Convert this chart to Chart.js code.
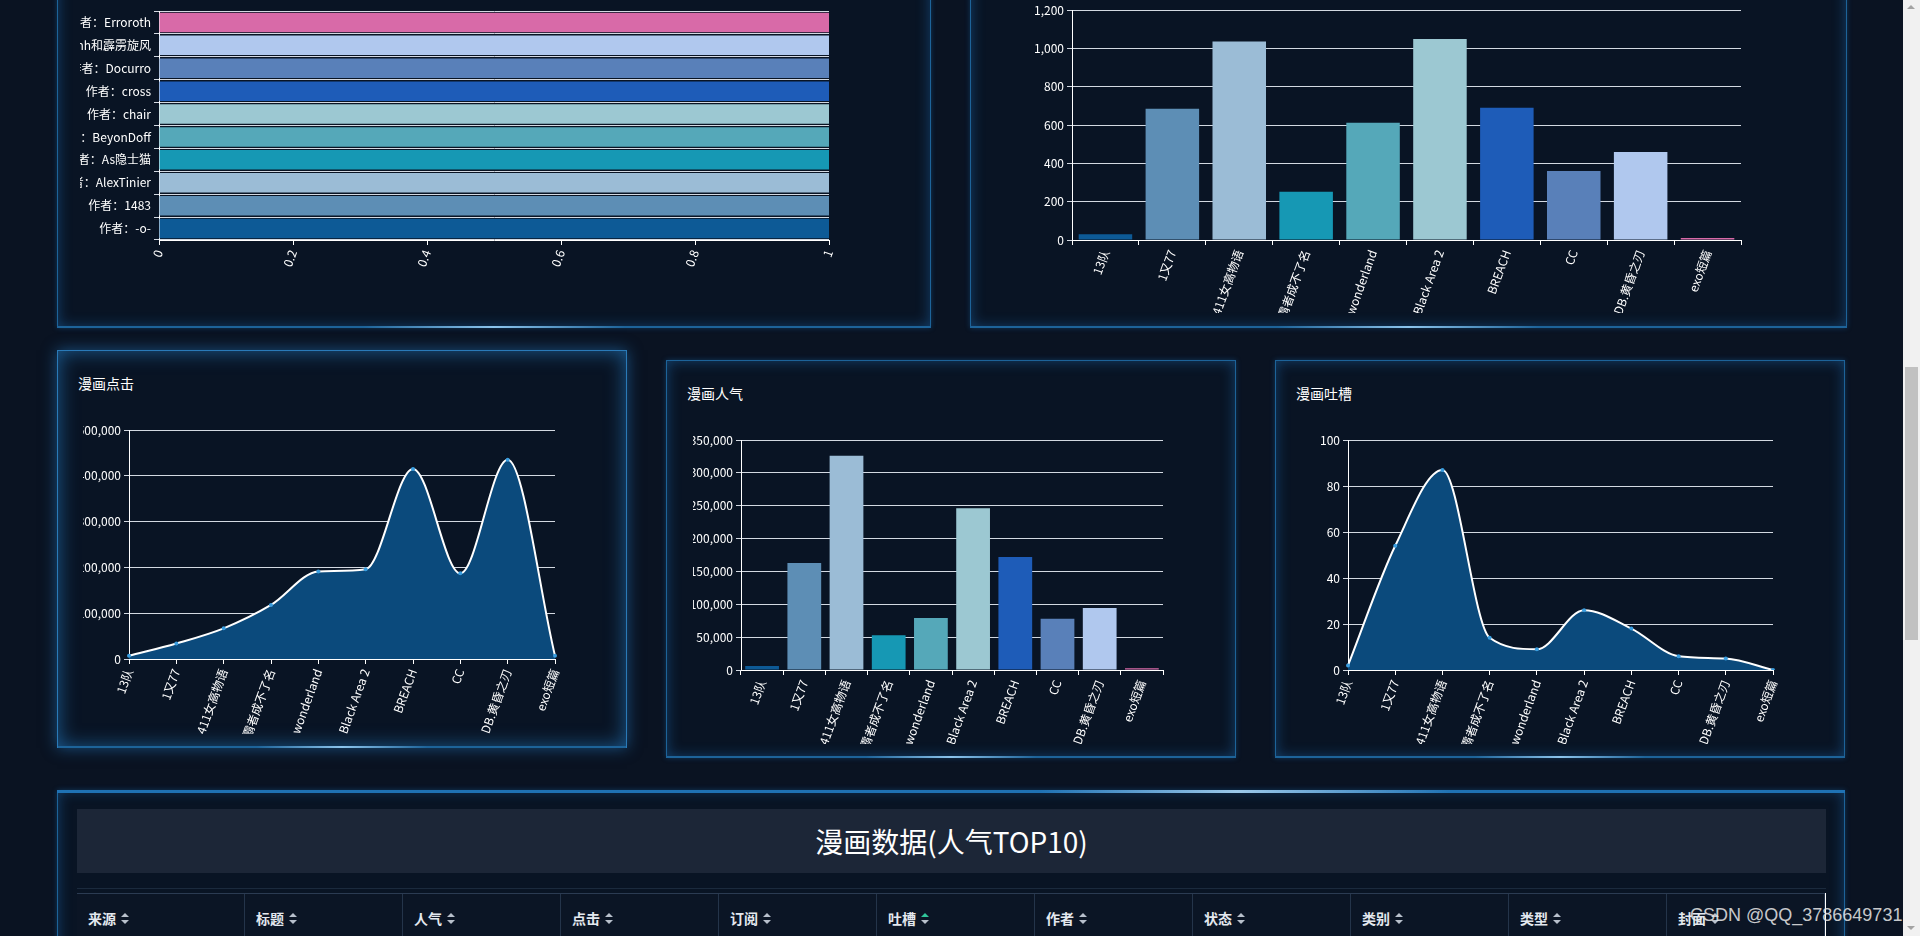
<!DOCTYPE html>
<html lang="zh">
<head>
<meta charset="utf-8">
<title>漫画数据</title>
<script src="https://cdn.jsdelivr.net/npm/chart.js@4.4.1/dist/chart.umd.min.js"></script>
<style>
  html, body { margin: 0; padding: 0; overflow: hidden; }
  body {
    width: 1920px; height: 936px; position: relative;
    background: #0a1322;
    font-family: "Microsoft YaHei", "Noto Sans CJK SC", sans-serif;
    color: #fff;
  }
  .box {
    position: absolute; box-sizing: border-box;
    border: 1px solid #1d6399;
    box-shadow: inset 0 0 14px rgba(30, 120, 200, .45), 0 0 5px rgba(30, 120, 200, .35);
    background: #091424;
  }
  .box.hover { border-color: #2a7ab8; box-shadow: inset 0 0 20px rgba(40, 140, 220, .6), 0 0 14px rgba(40, 140, 220, .5); }
  .box .edge {
    position: absolute; left: 0; right: 0; bottom: -1px; height: 2px;
    background: linear-gradient(90deg, #1d6399 0%, #1d6399 35%, #8cc4ec 50%, #1d6399 65%, #1d6399 100%);
  }
  .title { position: absolute; font-size: 14px; line-height: 20px; color: #fff; }
  canvas { position: absolute; }
  #bottom { left: 57px; top: 790px; width: 1788px; height: 220px; border-top: 0; }
  #bottom .topline {
    position: absolute; left: -1px; right: -1px; top: 0; height: 3px;
    background: linear-gradient(90deg, #1f72b4 0%, #1f72b4 55%, #9cc9ea 66%, #1f72b4 78%, #1f72b4 100%);
  }
  #headbar {
    position: absolute; left: 77px; top: 809px; width: 1749px; height: 64px;
    background: #1c2637; text-align: center; font-size: 28px; line-height: 64px; color: #fff;
  }
  #sep { position: absolute; left: 77px; top: 888px; width: 1749px; height: 1px; background: #1b2a3d; }
  #thead {
    position: absolute; left: 77px; top: 893px; width: 1749px; height: 60px;
    border-top: 1px solid #2b3b52; display: flex; background: #0b1525;
  }
  #thead div {
    box-sizing: border-box; height: 60px; padding: 14px 0 0 11px;
    border-right: 1px solid #24344a; font-size: 14px; font-weight: bold; color: #e3e8ef;
  }
  .sort { display: inline-block; vertical-align: middle; margin-left: 5px; width: 8px; height: 11px; position: relative; top: -2px; }
  .sort i { position: absolute; left: 0; width: 0; height: 0; border-left: 4px solid transparent; border-right: 4px solid transparent; }
  .sort i.up { top: 0; border-bottom: 4px solid #b8c0cc; }
  .sort i.dn { bottom: 0; border-top: 4px solid #b8c0cc; }
  .sort.on i.up { border-bottom-color: #2fc59a; }
  #rline { position: absolute; left: 1825px; top: 893px; width: 1px; height: 50px; background: #fff; }
  #mark { position: absolute; left: 1690px; top: 905px; font-family: "Liberation Sans", Arial, sans-serif; font-size: 18px; color: rgba(235, 235, 235, .85); white-space: nowrap; }
  #scroll { position: absolute; left: 1903px; top: 0; width: 17px; height: 936px; background: #f1f1f1; }
  #thumb { position: absolute; left: 2px; top: 367px; width: 13px; height: 273px; background: #c1c1c1; }
  .arr { position: absolute; left: 4px; width: 0; height: 0; border-left: 4px solid transparent; border-right: 4px solid transparent; }
</style>
</head>
<body>

<div class="box" style="left:57px;top:-30px;width:874px;height:358px"><div class="edge"></div></div>
<div class="box" style="left:970px;top:-30px;width:877px;height:358px"><div class="edge"></div></div>
<div class="box hover" style="left:57px;top:350px;width:570px;height:398px"><div class="edge"></div></div>
<div class="box" style="left:666px;top:360px;width:570px;height:398px"><div class="edge"></div></div>
<div class="box" style="left:1275px;top:360px;width:570px;height:398px"><div class="edge"></div></div>

<div class="title" style="left:78px;top:373px">漫画点击</div>
<div class="title" style="left:687px;top:383px">漫画人气</div>
<div class="title" style="left:1296px;top:383px">漫画吐槽</div>

<canvas id="authorChart" width="753" height="300" style="left:80px;top:0"></canvas>
<canvas id="subChart" width="770" height="313" style="left:990px;top:0"></canvas>
<canvas id="clickChart" width="529" height="334" style="left:83px;top:400px"></canvas>
<canvas id="hotChart" width="533" height="334" style="left:693px;top:410px"></canvas>
<canvas id="talkChart" width="545" height="334" style="left:1290px;top:410px"></canvas>

<div class="box" id="bottom"><div class="topline"></div></div>
<div id="headbar">漫画数据(人气TOP10)</div>
<div id="sep"></div>
<div id="thead"></div>
<div id="rline"></div>
<div id="mark">CSDN @QQ_3786649731</div>

<div id="scroll">
  <div class="arr" style="top:5px;border-bottom:4px solid #a3a3a3"></div>
  <div id="thumb"></div>
  <div class="arr" style="top:926px;border-top:4px solid #a3a3a3"></div>
</div>

<script>
// 漫画 top10 (人气)
const titles = ['13队', '1又77', '1411女高物语', '霸者成不了名', 'wonderland', 'Black Area 2', 'BREACH', 'CC', 'DB.黄昏之刃', 'exo短篇'];
const authors = ['作者：-o-', '作者：1483', '作者：AlexTinier', '作者：As隐士猫', '作者：BeyonDoff', '作者：chair', '作者：cross', '作者：Docurro', '作者：Rainh和霹雳旋风', '作者：Erroroth'];
const authorShare = [1, 1, 1, 1, 1, 1, 1, 1, 1, 1];
const subscribe = [30, 685, 1036, 252, 612, 1049, 690, 360, 459, 10];
const clicks = [7000, 34000, 67000, 118000, 191000, 196000, 415000, 187000, 435000, 7000];
const popularity = [6000, 163000, 326000, 53000, 79000, 246000, 172000, 78000, 94500, 2500];
const complaints = [2, 54, 87, 14, 9, 26, 18, 6, 5, 0];
const columns = ['来源', '标题', '人气', '点击', '订阅', '吐槽', '作者', '状态', '类别', '类型', '封面'];

const PALETTE = ['#0d5a96', '#5d8eb5', '#9bbcd6', '#1698b4', '#55a8b9', '#9cc8d2', '#1e5cb8', '#5980b9', '#b0c8ee', '#d86aa8'];
const GRID = '#d3d9e2';
const AREA = '#0b4a7c';

Chart.defaults.color = '#fff';
Chart.defaults.font.family = '"Microsoft YaHei", "Noto Sans CJK SC", sans-serif';
Chart.defaults.font.size = 12;
Chart.defaults.animation = false;
Chart.defaults.responsive = false;
Chart.defaults.plugins.legend.display = false;
Chart.defaults.plugins.tooltip.enabled = false;

// fixed axis sizes so labels overflow the canvas like the original
const fixW = w => s => { s.width = w; };
const fixH = h => s => { s.height = h; };

function catAxis(h, offset) {
    return {
        offset: offset,
        grid: { drawOnChartArea: false, color: '#fff', tickLength: 5, offset: offset },
        border: { color: '#fff' },
        ticks: { minRotation: 70, maxRotation: 70, autoSkip: false },
        afterFit: fixH(h)
    };
}

function valAxis(w, max, step) {
    return {
        min: 0, max: max,
        grid: { color: GRID, tickLength: 5 },
        border: { color: '#fff' },
        ticks: { stepSize: step },
        afterFit: fixW(w)
    };
}

function area(values) {
    return {
        data: values, fill: 'origin', backgroundColor: AREA, borderColor: '#fff', borderWidth: 2,
        cubicInterpolationMode: 'monotone', pointRadius: 2, pointBackgroundColor: '#3a9ee0', pointBorderWidth: 0
    };
}

// 作者 horizontal bars
new Chart(document.getElementById('authorChart'), {
    type: 'bar',
    data: {
        labels: authors,
        datasets: [{ data: authorShare, backgroundColor: PALETTE, categoryPercentage: 0.85, barPercentage: 1 }]
    },
    options: {
        indexAxis: 'y',
        layout: { padding: { top: 11, right: 4, left: 0, bottom: 0 } },
        scales: {
            x: {
                min: 0, max: 1,
                grid: { drawOnChartArea: false, color: '#fff', tickLength: 5 },
                border: { color: '#fff' },
                ticks: { stepSize: 0.2, minRotation: 70, maxRotation: 70, callback: v => String(Number(v.toFixed(1))) },
                afterFit: s => { s.height = 60; s.paddingRight = 0; }
            },
            y: {
                reverse: true,
                grid: { color: GRID, tickLength: 5 },
                border: { color: '#fff' },
                ticks: { autoSkip: false },
                afterFit: fixW(79)
            }
        }
    }
});

// 订阅
new Chart(document.getElementById('subChart'), {
    type: 'bar',
    data: {
        labels: titles,
        datasets: [{ data: subscribe, backgroundColor: PALETTE, categoryPercentage: 0.8, barPercentage: 1 }]
    },
    options: {
        layout: { padding: { top: 10, right: 19, left: 0, bottom: 0 } },
        scales: { x: catAxis(73, true), y: valAxis(82, 1200, 200) }
    }
});

// 点击
new Chart(document.getElementById('clickChart'), {
    type: 'line',
    data: { labels: titles, datasets: [area(clicks)] },
    options: {
        layout: { padding: { top: 30, right: 57, left: 0, bottom: 0 } },
        scales: { x: catAxis(75, false), y: valAxis(46, 500000, 100000) }
    }
});

// 人气
new Chart(document.getElementById('hotChart'), {
    type: 'bar',
    data: {
        labels: titles,
        datasets: [{ data: popularity, backgroundColor: PALETTE, categoryPercentage: 0.8, barPercentage: 1 }]
    },
    options: {
        layout: { padding: { top: 30, right: 63, left: 0, bottom: 0 } },
        scales: { x: catAxis(74, true), y: valAxis(48, 350000, 50000) }
    }
});

// 吐槽
new Chart(document.getElementById('talkChart'), {
    type: 'line',
    data: { labels: titles, datasets: [area(complaints)] },
    options: {
        layout: { padding: { top: 30, right: 62, left: 0, bottom: 0 } },
        scales: { x: catAxis(74, false), y: valAxis(58, 100, 20) }
    }
});

// table header
const thead = document.getElementById('thead');
columns.forEach((c, i) => {
    const cell = document.createElement('div');
    cell.style.width = (i === 0 ? 168 : 158) + 'px';
    cell.innerHTML = `${c}<span class="sort${c === '吐槽' ? ' on' : ''}"><i class="up"></i><i class="dn"></i></span>`;
    thead.appendChild(cell);
});
</script>
</body>
</html>
